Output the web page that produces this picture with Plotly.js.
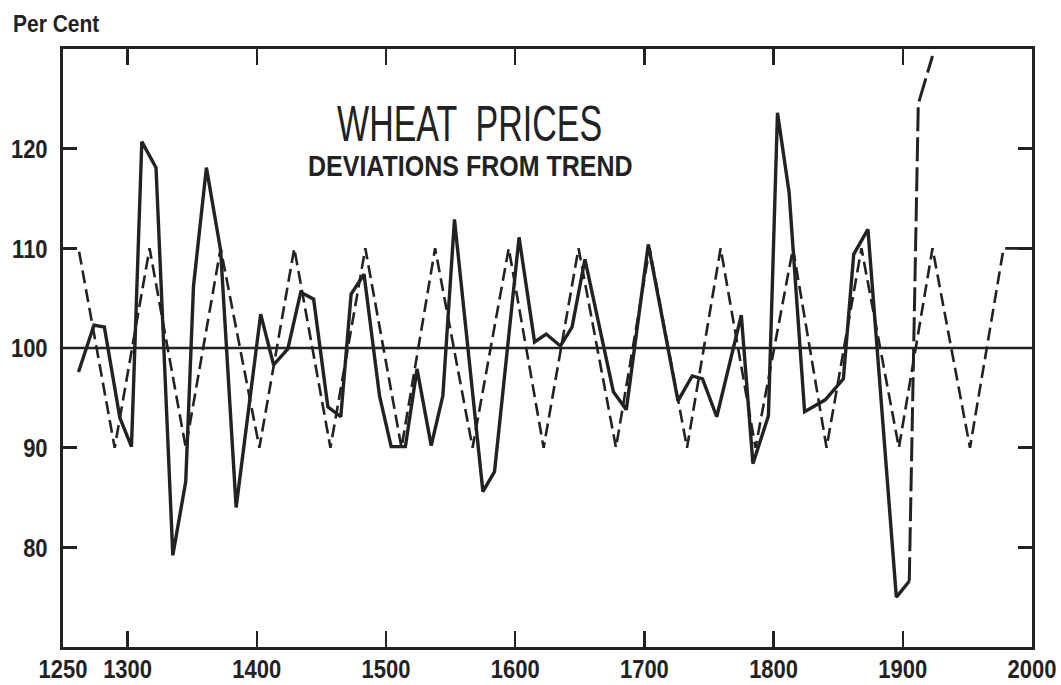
<!DOCTYPE html>
<html>
<head>
<meta charset="utf-8">
<script src="https://cdn.plot.ly/plotly-3.0.1.min.js"></script>
<style>
  html, body { margin: 0; padding: 0; background: #ffffff; }
  #chart { width: 1061px; height: 685px; }
</style>
</head>
<body>
<div id="chart"></div>
<script>
// Wheat prices, deviations from trend (per cent) — solid series
const priceYears = [1262, 1274, 1282, 1294, 1303, 1311, 1322, 1335, 1345, 1351, 1361, 1372, 1384,
  1403, 1413, 1424, 1434, 1444, 1455, 1465, 1473, 1483, 1495, 1504, 1515, 1524, 1535, 1544, 1553,
  1575, 1584, 1603, 1615, 1624, 1635, 1644, 1654, 1676, 1686, 1703, 1726, 1737, 1745, 1756, 1775,
  1784, 1796, 1803, 1812, 1824, 1840, 1854, 1862, 1873, 1895, 1905];
const priceValues = [97.6, 102.3, 102.1, 93.0, 90.1, 120.7, 118.1, 79.2, 86.6, 106.2, 118.1, 109.8, 84.0,
  103.4, 98.3, 99.9, 105.6, 104.9, 94.1, 93.1, 105.4, 107.4, 95.2, 90.1, 90.1, 97.9, 90.2, 95.2, 112.9,
  85.6, 87.6, 111.1, 100.6, 101.4, 100.2, 102.1, 108.9, 95.6, 93.8, 110.4, 94.7, 97.2, 96.9, 93.1, 103.3,
  88.4, 93.2, 123.6, 115.6, 93.6, 94.8, 96.9, 109.4, 111.9, 75.0, 76.6];

// Continuation after 1905 (long dashes, runs off the top)
const recentYears = [1905, 1912, 1923];
const recentValues = [76.6, 124.5, 129.3];

// Periodic cycle (short dashes)
const cycleYears = [1250, 1262, 1290, 1317, 1345, 1372, 1402, 1429, 1457, 1484, 1512, 1538, 1567,
  1595, 1622, 1649, 1678, 1704, 1733, 1759, 1786, 1815, 1841, 1868, 1897, 1923, 1952, 1978, 2000];
const cycleValues = [110, 110, 90, 110, 90, 110, 90, 110, 90, 110, 90, 110, 90,
  110, 90, 110, 90, 110, 90, 110, 90, 110, 90, 110, 90, 110, 90, 110, 110];

const xTickVals = [1250, 1300, 1400, 1500, 1600, 1700, 1800, 1900, 2000];
const xTickText = ['1250', '1300', '1400', '1500', '1600', '1700', '1800', '1900', '2000'];
const yTickVals = [80, 90, 100, 110, 120];
const yTickText = ['80', '90', '100', '110', '120'];

const ink = '#222222';
const fam = '"Liberation Sans", Arial, sans-serif';

const traces = [
  { x: cycleYears, y: cycleValues, type: 'scatter', mode: 'lines',
    line: { color: ink, width: 2.6, dash: '13px,6px' }, hoverinfo: 'skip' },
  { x: recentYears, y: recentValues, type: 'scatter', mode: 'lines',
    line: { color: ink, width: 3, dash: '24px,6px' }, hoverinfo: 'skip' },
  { x: priceYears, y: priceValues, type: 'scatter', mode: 'lines',
    line: { color: ink, width: 3.4 }, hoverinfo: 'skip' }
];

const layout = {
  width: 1061, height: 685, autosize: false,
  margin: { l: 63, r: 29, t: 49, b: 38 },
  paper_bgcolor: '#ffffff', plot_bgcolor: '#ffffff',
  showlegend: false,
  font: { family: fam, color: ink },
  xaxis: {
    range: [1250, 2000], tickmode: 'array', tickvals: xTickVals, ticktext: xTickText,
    tickangle: 0, ticklabelstandoff: 0,
    ticks: 'inside', ticklen: 16, tickwidth: 2.5, tickcolor: ink,
    showline: true, linewidth: 3, linecolor: ink, mirror: 'ticks',
    showgrid: false, zeroline: false,
    tickfont: { family: fam, size: 22, color: ink, weight: 'bold' }
  },
  yaxis: {
    range: [70, 130], tickmode: 'array', tickvals: yTickVals, ticktext: yTickText,
    ticklabelstandoff: 8,
    ticks: 'inside', ticklen: 14, tickwidth: 2.5, tickcolor: ink,
    showline: true, linewidth: 3, linecolor: ink, mirror: 'ticks',
    showgrid: false, zeroline: false,
    tickfont: { family: fam, size: 22, color: ink, weight: 'bold' }
  },
  shapes: [
    { type: 'line', xref: 'x', yref: 'y', x0: 1250, x1: 2000, y0: 100, y1: 100,
      line: { color: ink, width: 2.6 } }
  ],
  annotations: [
    { text: 'WHEAT  PRICES', xref: 'paper', yref: 'paper', x: 0.42, y: 0.875,
      xanchor: 'center', yanchor: 'middle', showarrow: false,
      font: { family: fam, size: 34, color: ink } },
    { text: 'DEVIATIONS FROM TREND', xref: 'paper', yref: 'paper', x: 0.421, y: 0.806,
      xanchor: 'center', yanchor: 'middle', showarrow: false,
      font: { family: fam, size: 25, color: ink, weight: 'bold' } },
    { text: 'Per Cent', xref: 'paper', yref: 'paper', x: -0.054, y: 1.043,
      xanchor: 'left', yanchor: 'middle', showarrow: false,
      font: { family: fam, size: 21, color: ink, weight: 'bold' } }
  ]
};

// the printed lettering is tall and narrow: stretch text vertically about its own centre
function stretchEl(t, s) {
  const b = t.getBBox();
  const cx = b.x + b.width / 2, cy = b.y + b.height / 2;
  const prev = t.getAttribute('transform') || '';
  t.setAttribute('transform', prev + ' translate(' + cx + ',' + cy + ') scale(1,' + s + ') translate(' + (-cx) + ',' + (-cy) + ')');
}

Plotly.newPlot('chart', traces, layout, { staticPlot: true, displayModeBar: false }).then(function () {
  document.querySelectorAll('.xtick text, .ytick text').forEach(function (t) { stretchEl(t, 1.2); });
  const ann = document.querySelectorAll('.annotation-text');
  if (ann[0]) stretchEl(ann[0], 1.45);
  if (ann[1]) stretchEl(ann[1], 1.2);
  if (ann[2]) stretchEl(ann[2], 1.15);
});
</script>
</body>
</html>
